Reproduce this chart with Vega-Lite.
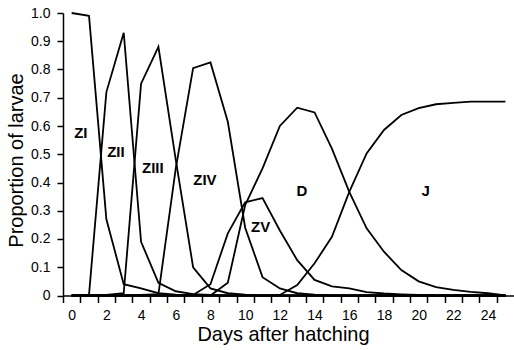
{
  "$schema": "https://vega.github.io/schema/vega-lite/v6.json",
  "autosize": "none",
  "width": 451.1,
  "height": 282.5,
  "padding": {"left": 63, "top": 13, "right": 0, "bottom": 54.5},
  "background": "white",
  "config": {"view": {"stroke": null}},
  "encoding": {
    "x": {
      "field": "day", "type": "quantitative",
      "scale": {"domain": [-0.5, 25.5], "nice": false, "zero": false},
      "axis": {
        "values": [0,1,2,3,4,5,6,7,8,9,10,11,12,13,14,15,16,17,18,19,20,21,22,23,24,25],
        "tickOffset": -8.675,
        "labelOffset": 8.675,
        "labelExpr": "datum.value % 2 == 0 ? datum.label : ''",
        "grid": false,
        "tickSize": 7, "tickWidth": 1.5, "tickColor": "black",
        "domainColor": "black", "domainWidth": 1.5,
        "labelFont": "Liberation Sans", "labelFontSize": 14, "labelColor": "black",
        "labelPadding": 6, "labelFlush": false, "labelOverlap": false,
        "title": "Days after hatching",
        "titleFont": "Liberation Sans", "titleFontSize": 20, "titleFontWeight": "normal", "titleColor": "black",
        "titleX": 220, "titleY": 45, "titleBaseline": "alphabetic", "titleAlign": "center"
      }
    },
    "y": {
      "field": "p", "type": "quantitative",
      "scale": {"domain": [0, 1], "nice": false},
      "axis": {
        "values": [0, 0.1, 0.2, 0.3, 0.4, 0.5, 0.6, 0.7, 0.8, 0.9, 1.0],
        "labelExpr": "datum.value == 0 ? '0' : format(datum.value, '.1f')",
        "grid": false,
        "tickSize": 6, "tickWidth": 1.5, "tickColor": "black",
        "domainColor": "black", "domainWidth": 1.5,
        "labelFont": "Liberation Sans", "labelFontSize": 14, "labelColor": "black",
        "labelPadding": 7, "labelFlush": false, "labelOverlap": false,
        "title": "Proportion of larvae",
        "titleFont": "Liberation Sans", "titleFontSize": 20, "titleFontWeight": "normal", "titleColor": "black",
        "titleX": -40, "titleY": 147, "titleBaseline": "alphabetic", "titleAlign": "center", "titleAngle": -90
      }
    }
  },
  "layer": [
    {
      "data": {"values": [
        {"day": 0, "ZI": 1.0, "ZII": 0, "ZIII": 0, "ZIV": 0, "ZV": 0, "D": 0, "J": 0},
        {"day": 1, "ZI": 0.99, "ZII": 0.003, "ZIII": 0, "ZIV": 0, "ZV": 0, "D": 0, "J": 0},
        {"day": 2, "ZI": 0.27, "ZII": 0.72, "ZIII": 0.002, "ZIV": 0, "ZV": 0, "D": 0, "J": 0},
        {"day": 3, "ZI": 0.04, "ZII": 0.93, "ZIII": 0.008, "ZIV": 0, "ZV": 0, "D": 0, "J": 0},
        {"day": 4, "ZI": 0.025, "ZII": 0.19, "ZIII": 0.75, "ZIV": 0.002, "ZV": 0, "D": 0, "J": 0},
        {"day": 5, "ZI": 0.008, "ZII": 0.045, "ZIII": 0.88, "ZIV": 0.005, "ZV": 0, "D": 0, "J": 0},
        {"day": 6, "ZI": 0.003, "ZII": 0.015, "ZIII": 0.48, "ZIV": 0.45, "ZV": 0, "D": 0, "J": 0},
        {"day": 7, "ZI": 0.001, "ZII": 0.005, "ZIII": 0.10, "ZIV": 0.805, "ZV": 0.002, "D": 0, "J": 0},
        {"day": 8, "ZI": 0, "ZII": 0.002, "ZIII": 0.025, "ZIV": 0.825, "ZV": 0.04, "D": 0, "J": 0},
        {"day": 9, "ZI": 0, "ZII": 0, "ZIII": 0.008, "ZIV": 0.615, "ZV": 0.22, "D": 0.045, "J": 0},
        {"day": 10, "ZI": 0, "ZII": 0, "ZIII": 0.003, "ZIV": 0.24, "ZV": 0.33, "D": 0.32, "J": 0},
        {"day": 11, "ZI": 0, "ZII": 0, "ZIII": 0, "ZIV": 0.065, "ZV": 0.345, "D": 0.45, "J": 0},
        {"day": 12, "ZI": 0, "ZII": 0, "ZIII": 0, "ZIV": 0.025, "ZV": 0.23, "D": 0.60, "J": 0.002},
        {"day": 13, "ZI": 0, "ZII": 0, "ZIII": 0, "ZIV": 0.008, "ZV": 0.125, "D": 0.665, "J": 0.037},
        {"day": 14, "ZI": 0, "ZII": 0, "ZIII": 0, "ZIV": 0.003, "ZV": 0.055, "D": 0.648, "J": 0.114},
        {"day": 15, "ZI": 0, "ZII": 0, "ZIII": 0, "ZIV": 0, "ZV": 0.032, "D": 0.52, "J": 0.208},
        {"day": 16, "ZI": 0, "ZII": 0, "ZIII": 0, "ZIV": 0, "ZV": 0.025, "D": 0.367, "J": 0.367},
        {"day": 17, "ZI": 0, "ZII": 0, "ZIII": 0, "ZIV": 0, "ZV": 0.012, "D": 0.238, "J": 0.503},
        {"day": 18, "ZI": 0, "ZII": 0, "ZIII": 0, "ZIV": 0, "ZV": 0.007, "D": 0.155, "J": 0.586},
        {"day": 19, "ZI": 0, "ZII": 0, "ZIII": 0, "ZIV": 0, "ZV": 0.004, "D": 0.09, "J": 0.639},
        {"day": 20, "ZI": 0, "ZII": 0, "ZIII": 0, "ZIV": 0, "ZV": 0.002, "D": 0.05, "J": 0.663},
        {"day": 21, "ZI": 0, "ZII": 0, "ZIII": 0, "ZIV": 0, "ZV": 0, "D": 0.03, "J": 0.677},
        {"day": 22, "ZI": 0, "ZII": 0, "ZIII": 0, "ZIV": 0, "ZV": 0, "D": 0.02, "J": 0.682},
        {"day": 23, "ZI": 0, "ZII": 0, "ZIII": 0, "ZIV": 0, "ZV": 0, "D": 0.013, "J": 0.686},
        {"day": 24, "ZI": 0, "ZII": 0, "ZIII": 0, "ZIV": 0, "ZV": 0, "D": 0.008, "J": 0.686},
        {"day": 25, "ZI": 0, "ZII": 0, "ZIII": 0, "ZIV": 0, "ZV": 0, "D": 0, "J": 0.686}
      ]},
      "transform": [{"fold": ["ZI", "ZII", "ZIII", "ZIV", "ZV", "D", "J"], "as": ["stage", "p"]}],
      "mark": {"type": "line", "color": "black", "strokeWidth": 1.8, "clip": false},
      "encoding": {
        "detail": {"field": "stage", "type": "nominal"}
      }
    },
    {
      "data": {"values": [
        {"label": "ZI", "day": 0.53, "p": 0.574},
        {"label": "ZII", "day": 2.55, "p": 0.509},
        {"label": "ZIII", "day": 4.68, "p": 0.453},
        {"label": "ZIV", "day": 7.68, "p": 0.409},
        {"label": "ZV", "day": 10.89, "p": 0.241},
        {"label": "D", "day": 13.27, "p": 0.37},
        {"label": "J", "day": 20.4, "p": 0.37}
      ]},
      "mark": {"type": "text", "font": "Liberation Sans", "fontWeight": "bold", "fontSize": 15, "color": "black", "align": "center", "baseline": "middle"},
      "encoding": {
        "text": {"field": "label", "type": "nominal"}
      }
    }
  ]
}
